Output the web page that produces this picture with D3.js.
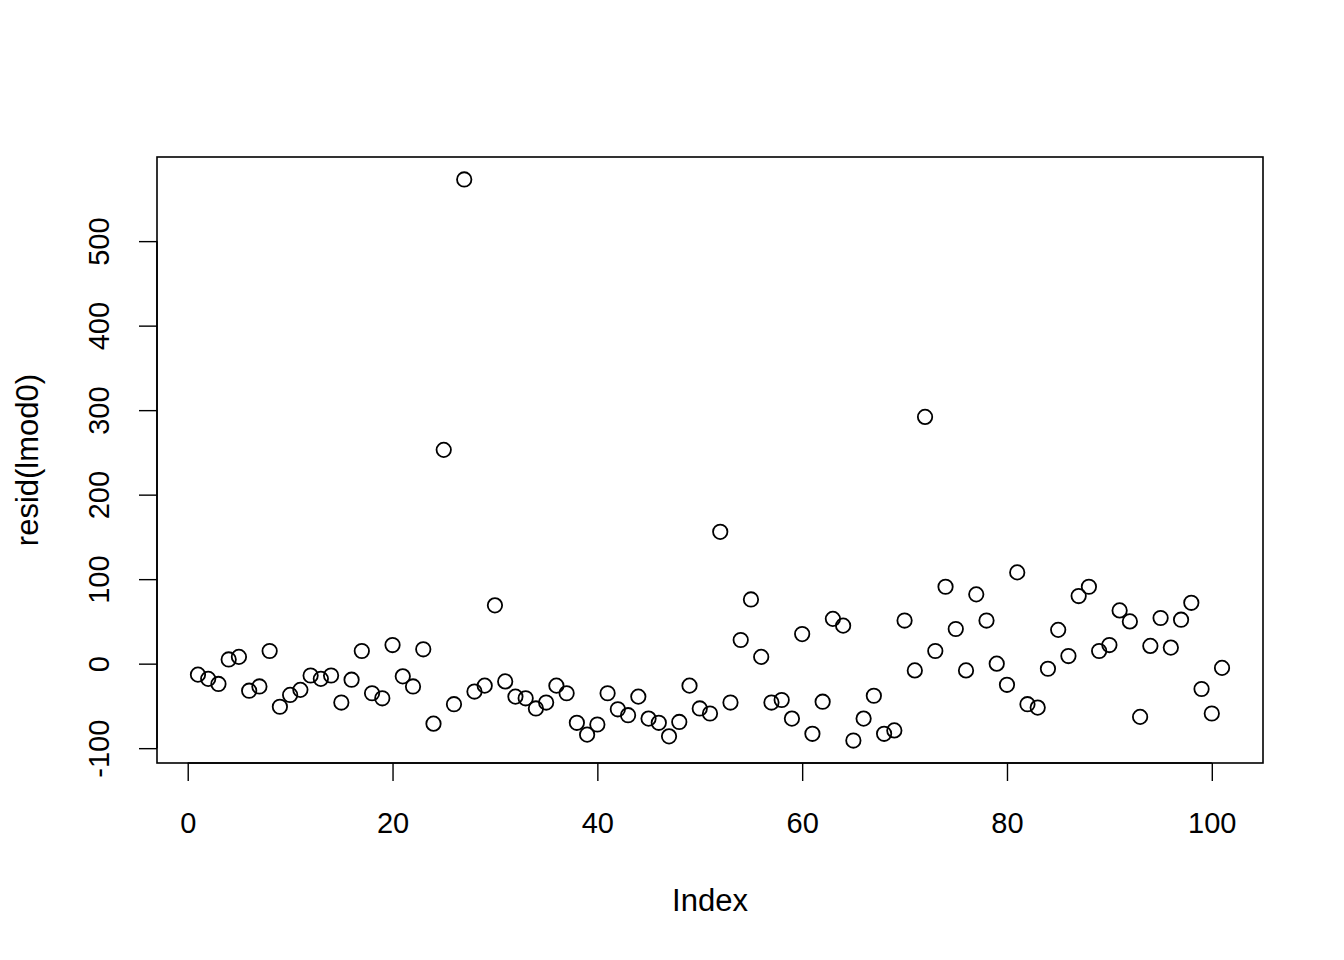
<!DOCTYPE html>
<html>
<head>
<meta charset="utf-8">
<script src="https://cdn.jsdelivr.net/npm/d3@7"></script>
<style>
  html, body { margin: 0; padding: 0; background: #fff; }
  svg { display: block; }
  text { font-family: "Liberation Sans", Arial, Helvetica, sans-serif; fill: #000; }
</style>
</head>
<body>
<script>
// Residuals of lmod0 by index
const residuals = [
  -13, -18, -24, 5, 8, -32, -27, 15, -51, -37,
  -31, -14, -18, -14, -46, -19, 15, -35, -41, 22,
  -15, -27, 17, -71, 253, -48, 573, -33, -26, 69,
  -21, -39, -41, -53, -46, -26, -35, -70, -84, -72,
  -35, -54, -61, -39, -65, -70, -86, -69, -26, -53,
  -59, 156, -46, 28, 76, 8, -46, -43, -65, 35,
  -83, -45, 53, 45, -91, -65, -38, -83, -79, 51,
  -8, 292, 15, 91, 41, -8, 82, 51, 0, -25,
  108, -48, -52, -6, 40, 9, 80, 91, 15, 22,
  63, 50, -63, 21, 54, 19, 52, 72, -30, -59,
  -5
];
const xTicks = [0, 20, 40, 60, 80, 100];
const yTicks = [-100, 0, 100, 200, 300, 400, 500];
const xTitle = "Index";
const yTitle = "resid(lmod0)";

const W = 1344, H = 960;
const plot = { left: 157, right: 1263, top: 157, bottom: 763 };

const data = residuals.map((v, i) => ({ index: i + 1, value: v }));

function padded(ext) {
  const r = ext[1] - ext[0];
  return [ext[0] - 0.04 * r, ext[1] + 0.04 * r];
}

const x = d3.scaleLinear()
  .domain(padded(d3.extent(data, d => d.index)))
  .range([plot.left, plot.right]);
const y = d3.scaleLinear()
  .domain(padded(d3.extent(data, d => d.value)))
  .range([plot.bottom, plot.top]);

const svg = d3.select("body").append("svg")
  .attr("width", W).attr("height", H);

// Box
svg.append("rect")
  .attr("x", plot.left).attr("y", plot.top)
  .attr("width", plot.right - plot.left)
  .attr("height", plot.bottom - plot.top)
  .attr("fill", "none").attr("stroke", "#000").attr("stroke-width", 1.6);

const fmt = d => String(d); // plain hyphen-minus, as in the reference

// X axis
const xAxis = d3.axisBottom(x).tickValues(xTicks).tickSize(18).tickFormat(fmt);
const gx = svg.append("g")
  .attr("transform", `translate(0,${plot.bottom})`)
  .call(xAxis);
gx.select(".domain")
  .attr("d", `M${x(xTicks[0])},0H${x(xTicks[xTicks.length - 1])}`)
  .attr("stroke-width", 1.6);
gx.selectAll(".tick line").attr("stroke-width", 1.4);
gx.selectAll(".tick text")
  .attr("font-family", "'Liberation Sans', Arial, sans-serif")
  .attr("font-size", 29)
  .attr("fill", "#000")
  .attr("dy", null)
  .attr("y", 70);

// Y axis
const yAxis = d3.axisLeft(y).tickValues(yTicks).tickSize(18).tickFormat(fmt);
const gy = svg.append("g")
  .attr("transform", `translate(${plot.left},0)`)
  .call(yAxis);
gy.select(".domain")
  .attr("d", `M0,${y(yTicks[0])}V${y(yTicks[yTicks.length - 1])}`)
  .attr("stroke-width", 1.6);
gy.selectAll(".tick line").attr("stroke-width", 1.4);
gy.selectAll(".tick text")
  .attr("font-family", "'Liberation Sans', Arial, sans-serif")
  .attr("font-size", 29)
  .attr("fill", "#000")
  .attr("x", null).attr("dy", null)
  .attr("text-anchor", "middle")
  .attr("transform", "translate(-48,0) rotate(-90)");

// Axis titles
svg.append("text")
  .attr("x", (plot.left + plot.right) / 2)
  .attr("y", 911)
  .attr("text-anchor", "middle")
  .attr("font-size", 31)
  .text(xTitle);

svg.append("text")
  .attr("transform", `translate(38,${(plot.top + plot.bottom) / 2}) rotate(-90)`)
  .attr("text-anchor", "middle")
  .attr("font-size", 31)
  .text(yTitle);

// Points
svg.append("g")
  .selectAll("circle")
  .data(data)
  .join("circle")
  .attr("cx", d => x(d.index))
  .attr("cy", d => y(d.value))
  .attr("r", 7.2)
  .attr("fill", "none")
  .attr("stroke", "#000")
  .attr("stroke-width", 1.8);
</script>
</body>
</html>
